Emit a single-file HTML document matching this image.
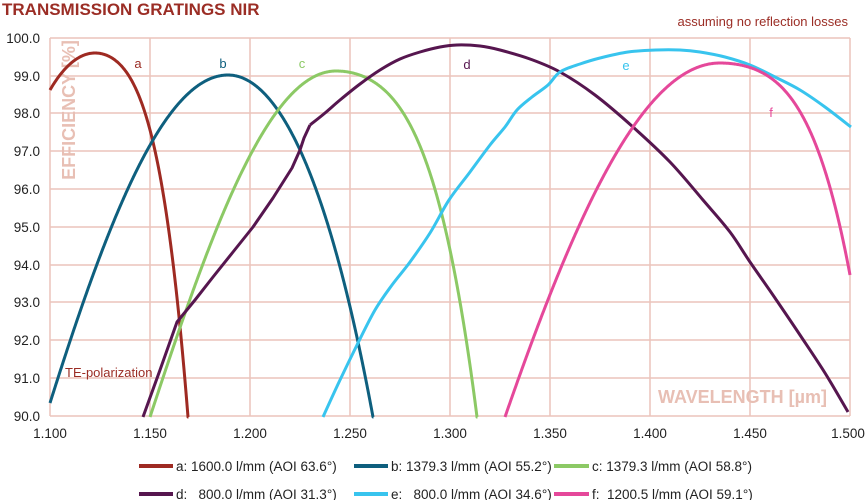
<!DOCTYPE html>
<html><head><meta charset="utf-8"><style>
html,body{margin:0;padding:0;background:#fff;}
svg{display:block;font-family:"Liberation Sans",sans-serif;}
</style></head><body>
<svg id="chart" width="866" height="500" viewBox="0 0 866 500" xmlns="http://www.w3.org/2000/svg">
<text x="2" y="15" font-size="17" font-weight="bold" fill="#9b2d25">TRANSMISSION GRATINGS NIR</text>
<text x="848" y="26" font-size="13" fill="#9b2d25" text-anchor="end">assuming no reflection losses</text>
<g stroke="#ebc4bb" stroke-width="1.5" fill="none">
<path d="M50,38H850M50,76H850M50,113H850M50,151H850M50,189H850M50,227H850M50,265H850M50,302H850M50,340H850M50,378H850M50,416H850"/>
<path d="M50,38V416M150,38V416M250,38V416M350,38V416M450,38V416M550,38V416M650,38V416M750,38V416M850,38V416"/>
</g>
<text transform="translate(75,110) rotate(-90)" font-size="18" font-weight="bold" fill="#e8bfb4" text-anchor="middle">EFFICIENCY [%]</text>
<text x="827" y="403" font-size="18" font-weight="bold" fill="#e8bfb4" text-anchor="end">WAVELENGTH [µm]</text>
<g font-size="13.5" fill="#222" text-anchor="end">
<text x="40" y="43">100.0</text><text x="40" y="81">99.0</text><text x="40" y="118">98.0</text><text x="40" y="156">97.0</text><text x="40" y="194">96.0</text><text x="40" y="232">95.0</text><text x="40" y="270">94.0</text><text x="40" y="307">93.0</text><text x="40" y="345">92.0</text><text x="40" y="383">91.0</text><text x="40" y="421">90.0</text>
</g>
<g font-size="13.5" fill="#222" text-anchor="middle">
<text x="50" y="438">1.100</text><text x="150" y="438">1.150</text><text x="250" y="438">1.200</text><text x="350" y="438">1.250</text><text x="450" y="438">1.300</text><text x="550" y="438">1.350</text><text x="650" y="438">1.400</text><text x="750" y="438">1.450</text><text x="848" y="438">1.500</text>
</g>
<text x="65" y="377" font-size="13" fill="#9b2d25">TE-polarization</text>
<g font-size="13" text-anchor="middle">
<text x="138" y="68" fill="#9b2d25">a</text><text x="223" y="68" fill="#0e5f7e">b</text><text x="302" y="68" fill="#8cc965">c</text><text x="467" y="69" fill="#56164f">d</text><text x="626" y="70" fill="#38c4ee">e</text><text x="771" y="117" fill="#e5489a">f</text>
</g>
<g id="curves" fill="none" stroke-width="3" stroke-linejoin="round" stroke-linecap="butt">
<polyline id="ca" stroke="#9e2a22" points="50,90 95,53 150,130 188,417"/>
<polyline id="cb" stroke="#0e5f7e" points="50,403 228,75 373,417"/>
<polyline id="cc" stroke="#8cc965" points="150,417 336,71 477,417"/>
<polyline stroke="#56164f" points="143,417 160,370 177,322 195,300 213,277 233,252 253,227 273,198 292,168 300,150 304,138 310,125"/>
<polyline class="sm" stroke="#56164f" points="310,125 325,113 340,100 360,84 380,70 400,59 420,52 440,47 457,45 480,46 500,50 530,59 560,72 595,95 633,127 670,162 703,200 730,232 750,262 775,298 800,335 825,373 848,412"/>
<polyline class="sm" stroke="#38c4ee" points="323,417 340,380 357,345 375,310 392,285 410,262 430,233 449,200 470,172 490,145 505,127 517,110 532,97 548,85 560,72 580,64 600,58 628,52 656,50 680,50 700,52 725,57 750,65 775,77 800,90 825,107 851,127"/>
<polyline id="cf" stroke="#e5489a" points="505,417 720,63 850,275"/>
</g>
<g stroke-width="4" fill="none">
<path d="M139,466H173" stroke="#9e2a22"/><path d="M354,466H388" stroke="#0e5f7e"/><path d="M554,466H589" stroke="#8cc965"/>
<path d="M139,494H173" stroke="#56164f"/><path d="M354,494H388" stroke="#38c4ee"/><path d="M554,494H589" stroke="#e5489a"/>
</g>
<g font-size="13.5" fill="#222">
<text x="176" y="471">a: 1600.0 l/mm (AOI 63.6°)</text>
<text x="391" y="471">b: 1379.3 l/mm (AOI 55.2°)</text>
<text x="592" y="471">c: 1379.3 l/mm (AOI 58.8°)</text>
<text x="176" y="499">d:&#160;&#160;&#160;800.0 l/mm (AOI 31.3°)</text>
<text x="391" y="499">e:&#160;&#160;&#160;800.0 l/mm (AOI 34.6°)</text>
<text x="592" y="499">f:&#160;&#160;1200.5 l/mm (AOI 59.1°)</text>
</g>
</svg>
<script>
(function(){
var NS="http://www.w3.org/2000/svg";
function fit(p1,p2){
 var a1=p1[0]*p1[0],b1=a1*a1,a2=p2[0]*p2[0],b2=a2*a2;
 var det=a1*b2-a2*b1;
 return [(p1[1]*b2-p2[1]*b1)/det,(a1*p2[1]-a2*p1[1])/det];
}
function gen(id,x0,y0,L1,L2,R1,R2,xmin,xmax){
 var L=fit(L1,L2),R=fit(R1,R2),pts=[];
 for(var x=xmin;x<=xmax;x+=0.5){
  var dx=x-x0,c=dx<0?L:R,d2=dx*dx;
  var y=y0+c[0]*d2+c[1]*d2*d2;
  if(y>417){ if(pts.length&&dx>0){pts.push(x+","+417);break;} else continue;}
  pts.push(x.toFixed(1)+","+y.toFixed(1));
 }
 document.getElementById(id).setAttribute("points",pts.join(" "));
}
gen("ca",95,53,[30,16],[45,37],[55,77],[93,364],50,200);
gen("cb",228,75,[75,65],[178,328],[72,75],[145,342],50,380);
gen("cc",336,71,[83,79],[186,346],[102,129],[141,346],140,490);
gen("cf",720,63,[87,64],[215,354],[79,47],[130,212],495,850);
var pls=document.querySelectorAll("#curves polyline.sm");
for(var k=0;k<pls.length;k++){
 var pl=pls[k];
 var pts=pl.getAttribute("points").trim().split(/\s+/).map(function(s){var a=s.split(",");return [+a[0],+a[1]];});
 var d="M"+pts[0][0]+","+pts[0][1];
 for(var i=0;i<pts.length-1;i++){
  var p0=pts[i>0?i-1:i],p1=pts[i],p2=pts[i+1],p3=pts[i+2<pts.length?i+2:i+1];
  var c1x=p1[0]+(p2[0]-p0[0])/6,c1y=p1[1]+(p2[1]-p0[1])/6;
  var c2x=p2[0]-(p3[0]-p1[0])/6,c2y=p2[1]-(p3[1]-p1[1])/6;
  d+=" C"+c1x.toFixed(1)+","+c1y.toFixed(1)+" "+c2x.toFixed(1)+","+c2y.toFixed(1)+" "+p2[0]+","+p2[1];
 }
 var p=document.createElementNS(NS,"path");
 p.setAttribute("d",d);p.setAttribute("stroke",pl.getAttribute("stroke"));
 pl.parentNode.replaceChild(p,pl);
}
})();
</script>
</body></html>
